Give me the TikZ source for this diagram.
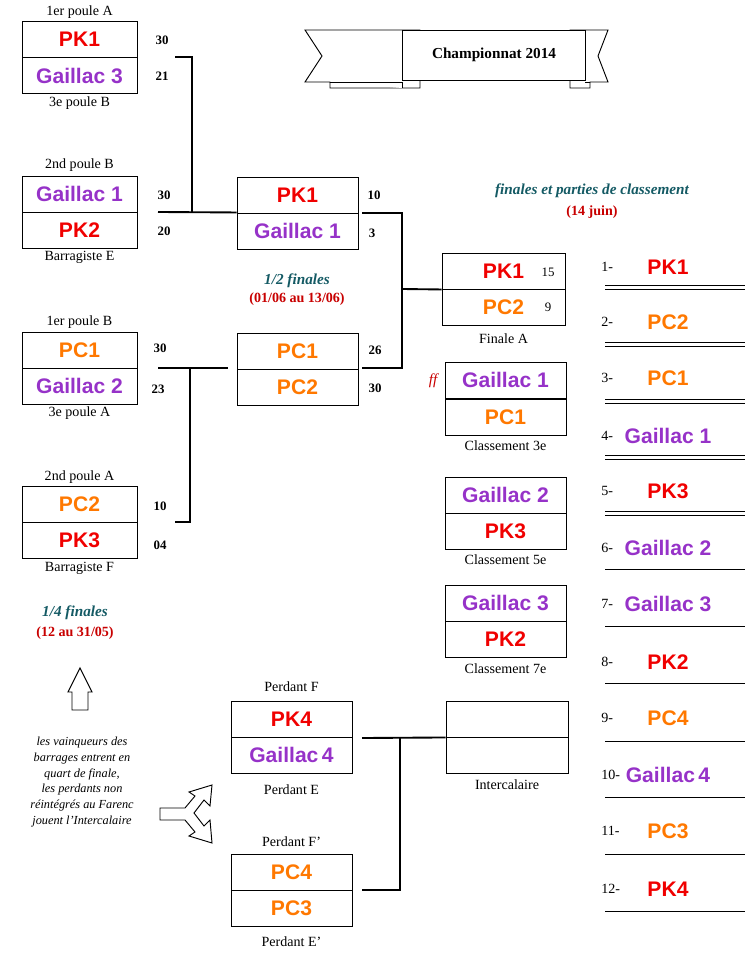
\documentclass[tikz,border=0pt]{standalone}
\usepackage{fontspec}
\setmainfont{Liberation Serif}
\newfontfamily\teamfont{Liberation Sans}
\usetikzlibrary{calc}
\definecolor{pkred}{RGB}{240,0,0}
\definecolor{pcorange}{RGB}{255,120,0}
\definecolor{gaipurple}{RGB}{150,50,200}
\definecolor{titleteal}{RGB}{20,90,100}
\definecolor{datered}{RGB}{200,0,0}

\begin{document}
\begin{tikzpicture}[x=0.03cm, y=-0.03cm, thick,
        cell_style/.style={draw, minimum width=3.45cm, minimum height=1.08cm, inner sep=0pt, font=\teamfont\fontsize{18}{18}\selectfont\bfseries},
        wide_cell_style/.style={cell_style, minimum width=3.63cm},
        pk/.style={text=pkred}, pc/.style={text=pcorange}, gai/.style={text=gaipurple},
        label_style/.style={font=\fontsize{12}{13}\selectfont},
        score_style/.style={font=\fontsize{11}{11}\selectfont\bfseries},
        round_title/.style={font=\fontsize{13}{14}\selectfont\bfseries\itshape, text=titleteal},
        round_date/.style={font=\fontsize{12}{13}\selectfont\bfseries, text=datered},
        bracket_style/.style={draw=black, line width=1.6pt},
        rank_num/.style={font=\fontsize{12}{12}\selectfont, anchor=west},
        rank_name/.style={font=\teamfont\fontsize{18}{18}\selectfont\bfseries}]
        \useasboundingbox (0,0) rectangle (747,957);

        % quarts de finale
        \node [cell_style,pk](q1a) at (79.5,39.5) {PK1};
        \node [cell_style,gai](q1b) at (79.5,75.5) {Gaillac 3};
        \node [label_style] at (79.5,12) {1er poule A};
        \node [label_style] at (79.5,103) {3e poule B};
        \node [score_style](s1a) at (162,40) {30};
        \node [score_style](s1b) at (162,76) {21};

        \node [cell_style,gai](q2a) at (79.5,194) {Gaillac 1};
        \node [cell_style,pk](q2b) at (79.5,230) {PK2};
        \node [label_style] at (79.5,165) {2nd poule B};
        \node [label_style] at (79.5,257) {Barragiste E};
        \node [score_style] at (164,195) {30};
        \node [score_style] at (164,231) {20};

        \node [cell_style,pc](q3a) at (79.5,350) {PC1};
        \node [cell_style,gai](q3b) at (79.5,386) {Gaillac 2};
        \node [label_style] at (79.5,322) {1er poule B};
        \node [label_style] at (79.5,413) {3e poule A};
        \node [score_style] at (160,348) {30};
        \node [score_style] at (158,389) {23};

        \node [cell_style,pc](q4a) at (79.5,504) {PC2};
        \node [cell_style,pk](q4b) at (79.5,540) {PK3};
        \node [label_style] at (79.5,477) {2nd poule A};
        \node [label_style] at (79.5,568) {Barragiste F};
        \node [score_style] at (160,506) {10};
        \node [score_style](s4b) at (160,545) {04};

        % demi-finales
        \node [wide_cell_style,pk](d1a) at (297.5,195) {PK1};
        \node [wide_cell_style,gai](d1b) at (297.5,231) {Gaillac 1};
        \node [score_style] at (374,195) {10};
        \node [score_style] at (372,233) {3};
        \node [wide_cell_style,pc](d2a) at (297.5,351) {PC1};
        \node [wide_cell_style,pc](d2b) at (297.5,387) {PC2};
        \node [score_style] at (375,350) {26};
        \node [score_style] at (375,388) {30};
        \node [round_title] at (297,281) {1/2 finales};
        \node [round_date] at (297,299) {(01/06 au 13/06)};

        % finale et classements
        \node [cell_style,minimum width=3.69cm,pk](fa) at (503.5,271) {PK1\hspace{1.2cm}};
        \node [cell_style,minimum width=3.69cm,pc](fb) at (503.5,307.5) {PC2\hspace{1.2cm}};
        \node [score_style,font=\fontsize{11}{11}\selectfont] at (548,272) {15};
        \node [score_style,font=\fontsize{11}{11}\selectfont] at (548,307) {9};
        \node [label_style] at (503.5,339) {Finale A};

        \node [cell_style,minimum width=3.63cm,gai](c3a) at (505.5,380) {Gaillac 1};
        \node [cell_style,minimum width=3.63cm,pc](c3b) at (505.5,417) {PC1};
        \node [font=\fontsize{13}{13}\selectfont\itshape, text=datered] at (433,381) {ff};
        \node [label_style] at (505.5,446) {Classement 3e};
        \node [cell_style,minimum width=3.63cm,gai](c5a) at (505.5,495) {Gaillac 2};
        \node [cell_style,minimum width=3.63cm,pk](c5b) at (505.5,531) {PK3};
        \node [label_style] at (505.5,560) {Classement 5e};
        \node [cell_style,minimum width=3.63cm,gai](c7a) at (505.5,603) {Gaillac 3};
        \node [cell_style,minimum width=3.63cm,pk](c7b) at (505.5,639.5) {PK2};
        \node [label_style] at (505.5,669) {Classement 7e};
        \node [cell_style,minimum width=3.66cm](ia) at (507,719) {};
        \node [cell_style,minimum width=3.66cm](ib) at (507,755) {};
        \node [label_style] at (507,785) {Intercalaire};

        % barrages
        \node [cell_style,minimum width=3.63cm,pk](p1a) at (291.5,719) {PK4};
        \node [cell_style,minimum width=3.63cm,gai](p1b) at (291.5,755) {Gaillac\,4};
        \node [label_style] at (291.5,687) {Perdant F};
        \node [label_style] at (291.5,790) {Perdant E};
        \node [cell_style,minimum width=3.63cm,pc](p2a) at (291.5,872) {PC4};
        \node [cell_style,minimum width=3.63cm,pc](p2b) at (291.5,908) {PC3};
        \node [label_style] at (291.5,842) {Perdant F'};
        \node [label_style] at (291.5,942) {Perdant E'};

        % traits du tableau
        \coordinate (b1) at (192,57);
        \coordinate (b2) at (192,212);
        \coordinate (b3) at (190,368);
        \coordinate (b4) at (190,522);
        \coordinate (b5) at (402,213);
        \coordinate (b6) at (402,368);
        \coordinate (b7) at (402,289);
        \coordinate (b8) at (400,738);
        \coordinate (b9) at (400,890);
        \draw [bracket_style] (175,57) -- (b1) -- (b2);
        \draw [bracket_style] (158,212) -- (q2a.south east -| d1a.west);
        \draw [bracket_style] (158,368) -- (228,368);
        \draw [bracket_style] (b3) -- (b4) -- (175,522);
        \draw [bracket_style] (362,213) -- (b5) -- (b6) -- (362,368);
        \draw [bracket_style] (b7) -- (fa.south west);
        \draw [bracket_style] (362,738) -- (ia.south west);
        \draw [bracket_style] (b8) -- (b9) -- (362,890);

        % banniere
        \draw [thick, fill=white] (305,30) -- (420,30) -- (420,88) -- (330,88) -- (330,82) -- (305,82) -- (322,56) -- cycle;
        \draw [thick, fill=white] (608,30) -- (570,30) -- (570,88) -- (590,88) -- (590,82) -- (608,82) -- (598,56) -- cycle;
        \draw [thick, fill=white] (330,82) -- (402,82) -- (402,88);
        \draw [thick, fill=white] (590,82) -- (585,82);
        \node [draw, thick, fill=white, minimum width=5.5cm, minimum height=1.5cm, font=\fontsize{13}{13}\selectfont\bfseries](banner) at (494,55) {Championnat 2014};

        \node [round_title] at (592,191) {finales et parties de classement};
        \node [round_date] at (592,212) {(14 juin)};
        \node [round_title] at (75,613) {1/4 finales};
        \node [round_date] at (75,633) {(12 au 31/05)};

        % fleches et commentaire
        \draw [thick] (72,710) -- (72,692) -- (68,692) -- (80,668) -- (92,692) -- (88,692) -- (88,710) -- cycle;
        \node [align=center, font=\fontsize{10.5}{13.6}\selectfont\itshape](note) at (82,782) {les vainqueurs des\\barrages entrent en\\quart de finale,\\les perdants non\\réintégrés au Farenc\\jouent l'Intercalaire};
        \draw [thick] (160,808) -- (185,808) -- (195,796) -- (189,792) -- (212,785) -- (210,806) -- (204,800) -- (194,813)
              -- (204,826) -- (210,820) -- (212,843) -- (189,836) -- (195,832) -- (185,820) -- (160,820) -- cycle;

        % classement final
        \foreach \i/\team/\col [count=\k] in {267/PK1/pkred, 322/PC2/pcorange, 378/PC1/pcorange, 436/Gaillac 1/gaipurple, 491/PK3/pkred, 548/Gaillac 2/gaipurple, 604/Gaillac 3/gaipurple, 662/PK2/pkred, 718/PC4/pcorange, 775/Gaillac\,4/gaipurple, 831/PC3/pcorange, 889/PK4/pkred} {
            \node [rank_num](r\k) at (597,\i) {\k-};
            \node [rank_name, text=\col](n\k) at (668,\i) {\team};
        }
        \foreach \y in {285,342,399,455,511} {
            \draw [thick] (605,\y) -- (745,\y);
            \draw [thick] (605,\y+4) -- (745,\y+4);
        }
        \foreach \y in {569,626,683,741,797,854,911} {
            \draw [thick] (605,\y) -- (745,\y);
        }
        \end{tikzpicture}
\end{document}
